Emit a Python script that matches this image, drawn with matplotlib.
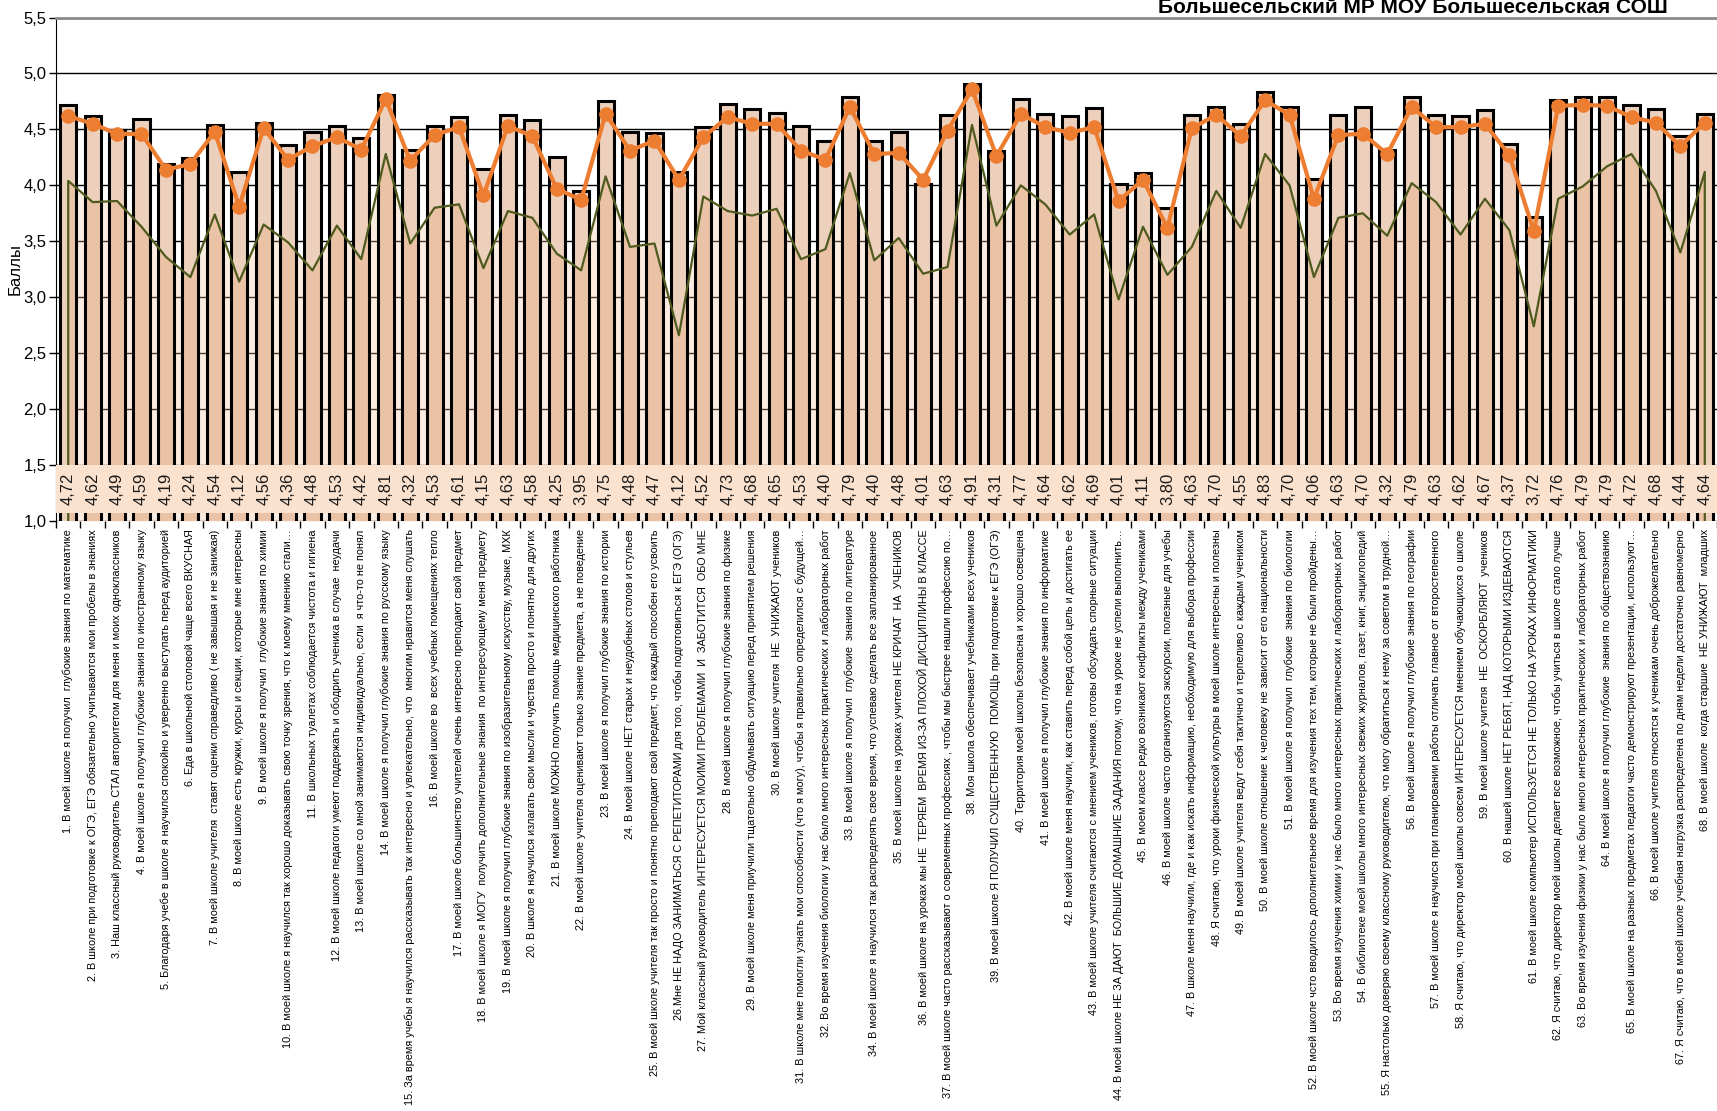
import numpy as np
import matplotlib
matplotlib.use("Agg")
import matplotlib.pyplot as plt
from matplotlib.patches import Polygon

labels = [
    "1. В моей школе я получил  глубокие знания по математике",
    "2. В школе при подготовке к ОГЭ, ЕГЭ обязательно учитываются мои пробелы в знаниях",
    "3. Наш классный руководитель СТАЛ авторитетом для меня и моих одноклассников",
    "4. В моей школе я получил глубокие знания по иностранному языку",
    "5. Благодаря учебе в школе я научился спокойно и уверенно выступать перед аудиторией",
    "6. Еда в школьной столовой чаще всего ВКУСНАЯ",
    "7. В моей школе учителя  ставят оценки справедливо ( не завышая и не занижая)",
    "8. В моей школе есть кружки, курсы и секции, которые мне интересны",
    "9. В моей школе я получил  глубокие знания по химии",
    "10. В моей школе я научился так хорошо доказывать свою точку зрения, что к моему мнению стали…",
    "11. В школьных туалетах соблюдается чистота и гигиена",
    "12. В моей школе педагоги умеют поддержать и ободрить ученика в случае  неудачи",
    "13. В моей школе со мной занимаются индивидуально, если  я что-то не понял",
    "14. В моей школе я получил глубокие знания по русскому языку",
    "15. За время учебы я научился рассказывать так интересно и увлекательно, что  многим нравится меня слушать",
    "16. В моей школе во  всех учебных помещениях тепло",
    "17. В моей школе большинство учителей очень интересно преподают свой предмет",
    "18. В моей школе я МОГУ  получить дополнительные знания  по интересующему меня предмету",
    "19. В моей школе я получил глубокие знания по изобразительному искусству, музыке, МХК",
    "20. В школе я научился излагать свои мысли и чувства просто и понятно для других",
    "21. В моей школе МОЖНО получить помощь медицинского работника",
    "22. В моей школе учителя оценивают только знание предмета, а не поведение",
    "23. В моей школе я получил глубокие знания по истории",
    "24. В моей школе НЕТ старых и неудобных столов и стульев",
    "25. В моей школе учителя так просто и понятно преподают свой предмет, что каждый способен его усвоить",
    "26.Мне НЕ НАДО ЗАНИМАТЬСЯ С РЕПЕТИТОРАМИ для того, чтобы подготовиться к ЕГЭ (ОГЭ)",
    "27. Мой классный руководитель ИНТЕРЕСУЕТСЯ МОИМИ ПРОБЛЕМАМИ  И  ЗАБОТИТСЯ  ОБО МНЕ",
    "28. В моей школе я получил глубокие знания по физике",
    "29. В моей школе меня приучили тщательно обдумывать ситуацию перед принятием решения",
    "30. В моей школе учителя  НЕ  УНИЖАЮТ учеников",
    "31. В школе мне помогли узнать мои способности (что я могу), чтобы я правильно определился с будущей…",
    "32. Во время изучения биологии у нас было много интересных практических и лабораторных работ",
    "33. В моей школе я получил  глубокие  знания по литературе",
    "34. В моей школе я научился так распределять свое время, что успеваю сделать все запланированное",
    "35. В моей школе на уроках учителя НЕ КРИЧАТ  НА  УЧЕНИКОВ",
    "36. В моей школе на уроках мы НЕ  ТЕРЯЕМ  ВРЕМЯ ИЗ-ЗА ПЛОХОЙ ДИСЦИПЛИНЫ В КЛАССЕ",
    "37. В моей школе часто рассказывают о современных профессиях , чтобы мы быстрее нашли профессию по…",
    "38. Моя школа обеспечивает учебниками всех учеников",
    "39. В моей школе Я ПОЛУЧИЛ СУЩЕСТВЕННУЮ  ПОМОЩЬ при подготовке к ЕГЭ (ОГЭ)",
    "40. Территория моей школы безопасна и хорошо освещена",
    "41. В моей школе я получил глубокие знания по информатике",
    "42. В моей школе меня научили, как ставить перед собой цель и достигать ее",
    "43. В моей школе учителя считаются с мнением учеников, готовы обсуждать спорные ситуации",
    "44. В моей школе НЕ ЗА ДАЮТ  БОЛЬШИЕ ДОМАШНИЕ ЗАДАНИЯ потому, что на уроке не успели выполнить…",
    "45. В моем классе редко возникают конфликты между учениками",
    "46. В моей школе часто организуются экскурсии, полезные для учебы",
    "47. В школе меня научили, где и как искать информацию, необходимую для выбора профессии",
    "48. Я считаю, что уроки физической культуры в моей школе интересны и полезны",
    "49. В моей школе учителя ведут себя тактично и терпеливо с каждым учеником",
    "50. В моей школе отношение к человеку не зависит от его национальности",
    "51. В моей школе я получил  глубокие  знания по биологии",
    "52. В моей школе чсто вводилось дополнительное время для изучения тех тем, которые не были пройдены…",
    "53. Во время изучения химии у нас было много интересных практических и лабораторных работ",
    "54. В библиотеке моей школы много интересных свежих журналов, газет, книг, энциклопедий",
    "55. Я настолько доверяю своему классному руководителю, что могу обратиться к нему за советом в трудной…",
    "56. В моей школе я получил глубокие знания по географии",
    "57. В моей школе я научился при планировании работы отличать главное от второстепенного",
    "58. Я считаю, что директор моей школы совсем ИНТЕРЕСУЕТСЯ мнением обучающихся о школе",
    "59. В моей школе учителя  НЕ  ОСКОРБЛЯЮТ  учеников",
    "60. В нашей школе НЕТ РЕБЯТ, НАД КОТОРЫМИ ИЗДЕВАЮТСЯ",
    "61. В моей школе компьютер ИСПОЛЬЗУЕТСЯ НЕ ТОЛЬКО НА УРОКАХ ИНФОРМАТИКИ",
    "62. Я считаю, что директор моей школы делает все возможное, чтобы учиться в школе стало лучше",
    "63. Во время изучения физики у нас было много интересных практических и лабораторных работ",
    "64. В моей школе я получил глубокие  знания по обществознанию",
    "65. В моей школе на разных предметах педагоги часто демонстрируют презентации, используют…",
    "66. В моей школе учителя относятся к ученикам очень доброжелательно",
    "67. Я считаю, что в моей школе учебная нагрузка распределена по дням недели достаточно равномерно",
    "68. В моей школе  когда старшие  НЕ УНИЖАЮТ  младших",
]

# school scores (bars)
school = [4.72, 4.62, 4.49, 4.59, 4.19, 4.24, 4.54, 4.12, 4.56, 4.36,
          4.48, 4.53, 4.42, 4.81, 4.32, 4.53, 4.61, 4.15, 4.63, 4.58,
          4.25, 3.95, 4.75, 4.48, 4.47, 4.12, 4.52, 4.73, 4.68, 4.65,
          4.53, 4.40, 4.79, 4.40, 4.48, 4.01, 4.63, 4.91, 4.31, 4.77,
          4.64, 4.62, 4.69, 4.01, 4.11, 3.80, 4.63, 4.70, 4.55, 4.83,
          4.70, 4.06, 4.63, 4.70, 4.32, 4.79, 4.63, 4.62, 4.67, 4.37,
          3.72, 4.76, 4.79, 4.79, 4.72, 4.68, 4.44, 4.64]

# district scores (orange line)
district = [4.62, 4.55, 4.46, 4.46, 4.14, 4.19, 4.48, 3.81, 4.51, 4.23,
            4.35, 4.43, 4.32, 4.77, 4.22, 4.45, 4.52, 3.91, 4.53, 4.44,
            3.97, 3.87, 4.64, 4.31, 4.40, 4.05, 4.43, 4.61, 4.55, 4.55,
            4.31, 4.23, 4.70, 4.28, 4.29, 4.05, 4.49, 4.86, 4.26, 4.64,
            4.52, 4.47, 4.52, 3.86, 4.05, 3.62, 4.51, 4.63, 4.44, 4.76,
            4.63, 3.88, 4.45, 4.46, 4.28, 4.70, 4.52, 4.52, 4.55, 4.27,
            3.59, 4.71, 4.72, 4.71, 4.61, 4.56, 4.35, 4.56]

# region scores (olive area)
region = [4.04, 3.85, 3.86, 3.63, 3.36, 3.18, 3.74, 3.14, 3.65, 3.49,
          3.24, 3.64, 3.34, 4.28, 3.48, 3.80, 3.83, 3.26, 3.77, 3.71,
          3.39, 3.24, 4.08, 3.45, 3.48, 2.66, 3.90, 3.77, 3.73, 3.79,
          3.34, 3.43, 4.11, 3.33, 3.53, 3.21, 3.27, 4.54, 3.64, 4.00,
          3.83, 3.56, 3.74, 2.98, 3.63, 3.20, 3.45, 3.95, 3.62, 4.28,
          4.00, 3.18, 3.71, 3.75, 3.55, 4.02, 3.85, 3.56, 3.88, 3.60,
          2.74, 3.88, 3.99, 4.17, 4.28, 3.95, 3.40, 4.12]

title = "Большесельский МР МОУ Большесельская СОШ"
ylabel = "Баллы"
yticks = [1.0, 1.5, 2.0, 2.5, 3.0, 3.5, 4.0, 4.5, 5.0, 5.5]

plt.rcParams["font.family"] = ["Liberation Sans", "DejaVu Sans"]

W, H = 1717, 1111
fig = plt.figure(figsize=(W / 100, H / 100), dpi=100)
ax = fig.add_axes([56 / W, 1 - 521 / H, 1 - 56 / W, (521 - 17.5) / H])

x = np.arange(len(school))
ax.set_xlim(-0.5, len(school) - 0.5)
ax.set_ylim(yticks[0], yticks[-1])

# grid
ax.set_yticks(yticks)
ax.set_yticklabels([f"{v:.1f}".replace(".", ",") for v in yticks], fontsize=12)
ax.yaxis.grid(True, color="black", lw=1)
ax.set_axisbelow(True)

# region area (semi-transparent, behind bars)
ax.fill_between(x, yticks[0], region, color="#F5C3A0", alpha=0.3, lw=0, zorder=1)

# bars: light part, darker part inside the region area, then outlines
bar_w = 0.66
ax.bar(x, school, width=bar_w, color="#EDD0BC", edgecolor="none", zorder=2)
dark = ax.bar(x, school, width=bar_w, color="#EAC2A6", edgecolor="none", zorder=2.1)
area_x = np.r_[x[0], x, x[-1]]
area_y = np.r_[0, region, 0]
clip = Polygon(np.column_stack([area_x, area_y]), closed=True, transform=ax.transData)
for r in dark:
    r.set_clip_path(clip)
ax.bar(x, school, width=bar_w, fill=False, edgecolor="black", lw=2.2, zorder=2.2)

# region outline
ax.plot(area_x, np.r_[yticks[0], region, yticks[0]], color="#4E5A1E", lw=1.6, zorder=3)

# value band with labels
ax.axhspan(1.07, 1.5, color="#FBE2CF", lw=0, zorder=4)
for xi, v in zip(x, school):
    ax.text(xi, 1.285, f"{v:.2f}".replace(".", ","), rotation=90, ha="center",
            va="center", fontsize=12, color="#1a1a1a", zorder=5)

# district line
ax.plot(x, district, color="#ED7D31", lw=3, marker="o", ms=9.5, zorder=6)

# axes styling
ax.spines["right"].set_visible(False)
ax.spines["bottom"].set_visible(False)
ax.spines["top"].set_color("#8c8c8c")
ax.spines["top"].set_linewidth(2)
ax.spines["left"].set_color("black")
ax.tick_params(axis="y", length=5, width=1, pad=2)

ax.set_xticks(x)
ax.set_xticklabels(labels, rotation=90, fontsize=7.85,
                   family=["Liberation Sans Narrow", "Liberation Sans"])
ax.set_xticks(np.arange(-0.5, len(school), 1), minor=True)
ax.tick_params(axis="x", which="major", length=0, pad=6)
ax.tick_params(axis="x", which="minor", length=5, width=1, direction="out")

fig.text(15 / W, 1 - 269 / H, ylabel, rotation=90, ha="center", va="center", fontsize=12)
fig.text(1668 / W, 1 - 13 / H, title, ha="right", va="baseline",
         fontsize=15, fontweight="bold")

plt.savefig("out.png", dpi=100)
